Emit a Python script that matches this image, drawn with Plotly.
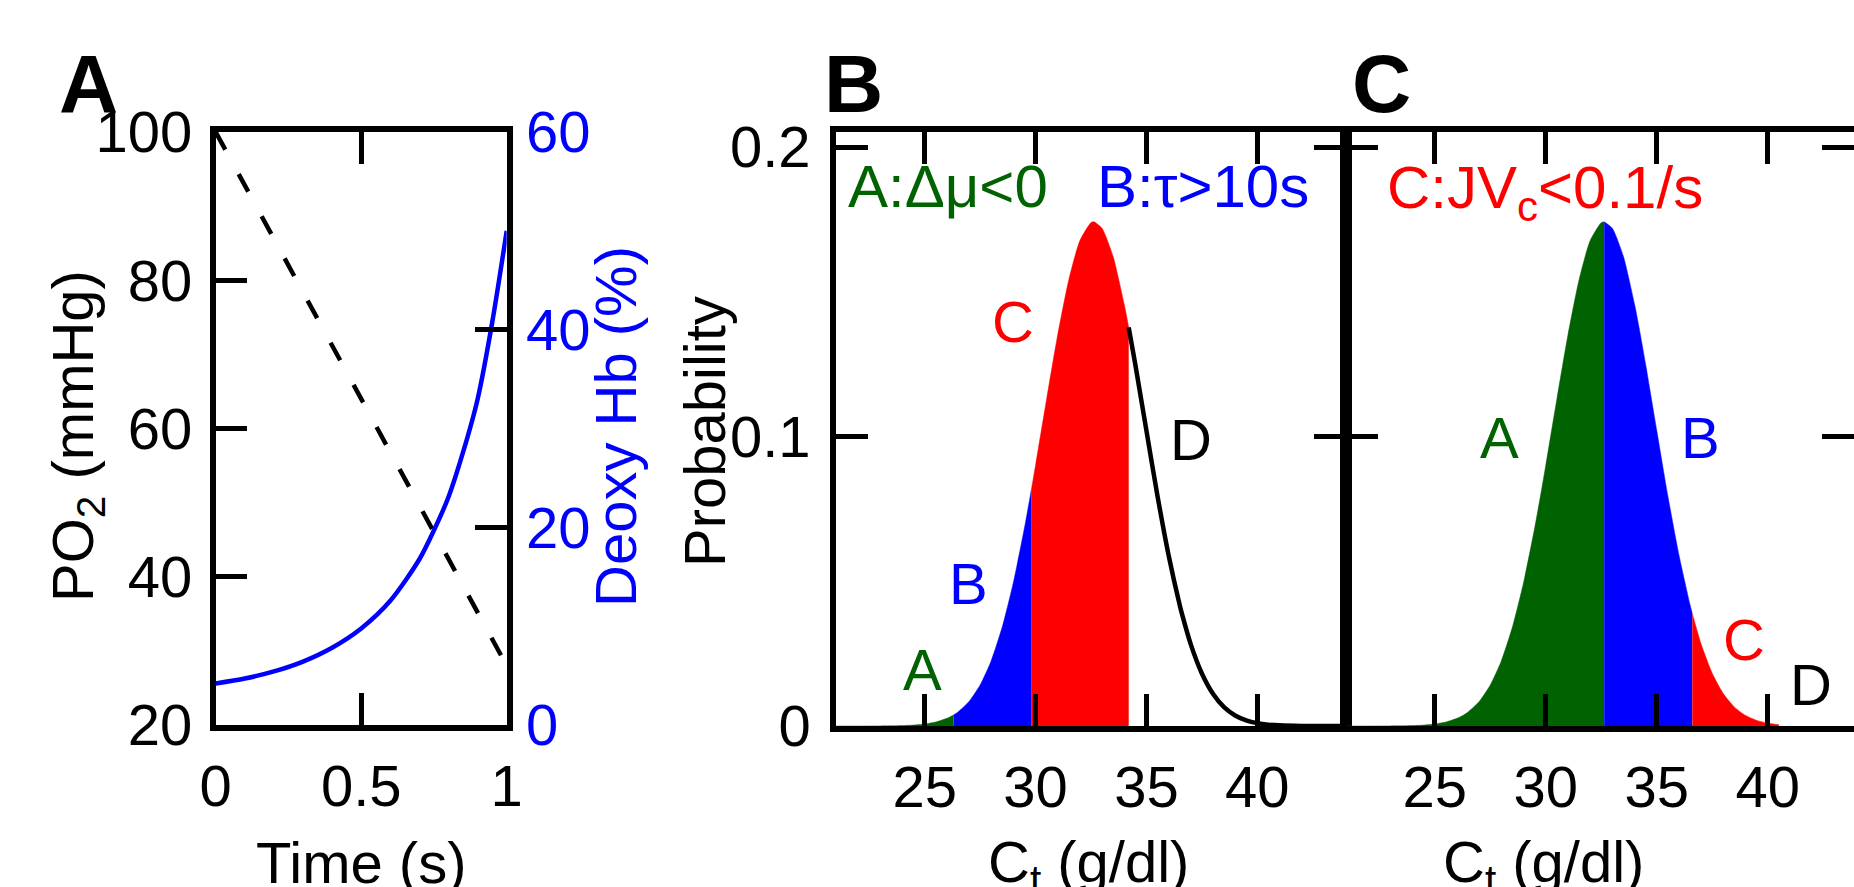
import plotly.graph_objects as go

W, H = 1854, 887

# ---------------- Panel A data ----------------
po2_time = [0, 0.25, 0.5, 0.75, 1.0]
po2_mmhg = [100, 82, 64, 46, 28]
deoxy_time = [0, 0.1, 0.2, 0.3, 0.4, 0.5, 0.6, 0.7, 0.75, 0.8, 0.85, 0.9, 0.95, 1.0]
deoxy_pct = [4.2, 4.7, 5.42, 6.42, 7.82, 9.77, 12.57, 16.77, 19.7, 23.07, 27.6, 32.97, 40.7, 50.0]

# ---------------- Panels B/C data ----------------
ct = [21, 22, 23, 23.5, 24, 24.5, 25, 25.5, 26, 26.3,
      26.5, 27, 27.5, 28, 28.5, 29, 29.5, 29.8, 30, 30.5,
      31, 31.5, 32, 32.5, 32.63, 33, 33.5, 34, 34.2, 34.5,
      35, 35.5, 36, 36.5, 36.6, 37, 37.5, 38, 38.5, 39,
      39.5, 40, 40.5, 41, 42, 43, 44]
prob = [0.0, 0.0, 0.00003, 0.00006, 0.00014, 0.00032, 0.00068, 0.00137, 0.00264, 0.00382,
        0.00484, 0.00847, 0.01417, 0.02256, 0.03427, 0.04961, 0.06846, 0.08117, 0.0901, 0.1130,
        0.1352, 0.1542, 0.1677, 0.1739, 0.1742, 0.1719, 0.1621, 0.1456, 0.1377, 0.1248,
        0.1020, 0.0794, 0.0590, 0.0418, 0.0388, 0.0282, 0.01815, 0.01114, 0.00652, 0.00364,
        0.00194, 0.00098, 0.00047, 0.00022, 0.00004, 0.00001, 0.0]
cuts_B = [26.3, 29.8, 34.2]
cuts_C = [32.63, 36.6, 40.5]

ct_ticks = [25, 30, 35, 40]
prob_ticks = [0, 0.1, 0.2]
prob_labels = ["0", "0.1", "0.2"]

GREEN = "rgb(0,98,0)"
BLUE = "#0000ff"
RED = "#ff0000"
FONT = "Liberation Sans, Arial, sans-serif"
FS = 58


def fx(x):
    return x / W


def fy(y):
    return 1 - y / H


def seg(lo, hi):
    xs = [c for c in ct if lo <= c <= hi]
    ys = [p for c, p in zip(ct, prob) if lo <= c <= hi]
    return xs, ys


fig = go.Figure()

# Panel A
fig.add_trace(go.Scatter(x=po2_time, y=po2_mmhg, mode="lines",
                         line=dict(color="black", width=4.5, dash="20px,28px"),
                         xaxis="x", yaxis="y", showlegend=False))
fig.add_trace(go.Scatter(x=deoxy_time, y=deoxy_pct, mode="lines",
                         line=dict(color=BLUE, width=4.5, shape="spline", smoothing=0.8),
                         xaxis="x", yaxis="y2", showlegend=False))

# Panel B
b_edges = [ct[0]] + cuts_B
for (lo, hi), col in zip(zip(b_edges[:-1], b_edges[1:]), [GREEN, BLUE, RED]):
    xs, ys = seg(lo, hi)
    fig.add_trace(go.Scatter(x=xs, y=ys, mode="lines", fill="tozeroy", fillcolor=col,
                             line=dict(color=col, width=0.5, shape="spline", smoothing=0.6),
                             xaxis="x2", yaxis="y3", showlegend=False))
xs, ys = seg(cuts_B[-1], ct[-1])
fig.add_trace(go.Scatter(x=xs, y=ys, mode="lines",
                         line=dict(color="black", width=4.5, shape="spline", smoothing=0.6),
                         xaxis="x2", yaxis="y3", showlegend=False))

# Panel C
c_edges = [ct[0]] + cuts_C
for (lo, hi), col in zip(zip(c_edges[:-1], c_edges[1:]), [GREEN, BLUE, RED]):
    xs, ys = seg(lo, hi)
    fig.add_trace(go.Scatter(x=xs, y=ys, mode="lines", fill="tozeroy", fillcolor=col,
                             line=dict(color=col, width=0.5, shape="spline", smoothing=0.6),
                             xaxis="x3", yaxis="y4", showlegend=False))

axcommon = dict(showline=True, linecolor="black", linewidth=5.5, ticks="inside",
                ticklen=32, tickwidth=4.5, tickcolor="black", showgrid=False, zeroline=False,
                automargin=False,
                tickfont=dict(family=FONT, size=FS, color="black"))

A_x = [215.7, 506.7]
A_y = [132, 725]
B_x = [836, 1346]
C_x = [1346, 1854]
BC_y = [132, 726]
ymaxBC = 0.2052
c_right = 21 + (C_x[1] - C_x[0]) / 22.2

fig.update_layout(
    template="none",
    width=W, height=H, autosize=False,
    margin=dict(l=0, r=0, t=0, b=0, pad=0),
    paper_bgcolor="white", plot_bgcolor="rgba(0,0,0,0)",
    showlegend=False,
    xaxis=dict(axcommon, domain=[fx(A_x[0]), fx(A_x[1])], range=[0, 1], anchor="y",
               tickvals=[0, 0.5, 1], ticktext=["0", "0.5", "1"], mirror="ticks",
               ticklabelstandoff=6),
    yaxis=dict(axcommon, domain=[fy(A_y[1]), fy(A_y[0])], range=[20, 100], anchor="x",
               tickvals=[20, 40, 60, 80, 100], mirror=False, ticklabelstandoff=6),
    yaxis2=dict(axcommon, overlaying="y", side="right", anchor="x", range=[0, 60],
                tickvals=[0, 20, 40, 60], mirror=False, ticklabelstandoff=2,
                tickfont=dict(family=FONT, size=FS, color=BLUE)),
    xaxis2=dict(axcommon, domain=[fx(B_x[0]), fx(B_x[1])], range=[21, 44], anchor="y3",
                tickvals=ct_ticks, mirror="ticks", ticklabelstandoff=6),
    yaxis3=dict(axcommon, domain=[fy(BC_y[1]), fy(BC_y[0])], range=[0, ymaxBC], anchor="x2",
                tickvals=prob_ticks, ticktext=prob_labels, mirror="ticks", ticklabelstandoff=8),
    xaxis3=dict(axcommon, domain=[fx(C_x[0]), 1.0], range=[21, c_right], anchor="y4",
                tickvals=ct_ticks, mirror="ticks", ticklabelstandoff=6),
    yaxis4=dict(axcommon, domain=[fy(BC_y[1]), fy(BC_y[0])], range=[0, ymaxBC], anchor="x3",
                tickvals=prob_ticks, showticklabels=False, mirror=False),
    # right-hand ticks of panel C (its frame line lies just beyond the picture edge)
    yaxis5=dict(axcommon, overlaying="y4", side="right", anchor="x3", range=[0, ymaxBC],
                tickvals=prob_ticks, showticklabels=False, showline=False, mirror=False),
)
# dummy trace so that yaxis5 is drawn
fig.add_trace(go.Scatter(x=[ct[0]], y=[prob[0]], mode="markers", marker=dict(opacity=0),
                         xaxis="x3", yaxis="y5", showlegend=False, hoverinfo="skip"))

ann = []


def add(text, x, y, size=FS, color="black", angle=0, bold=False, xanchor="center"):
    ann.append(dict(text=("<b>%s</b>" % text) if bold else text, x=fx(x), y=fy(y),
                    xref="paper", yref="paper", showarrow=False, textangle=angle,
                    xanchor=xanchor, yanchor="middle",
                    font=dict(family=FONT, size=size, color=color)))


# panel letters
add("A", 88, 83, size=82, bold=True)
add("B", 853, 83, size=82, bold=True)
add("C", 1381, 83, size=82, bold=True)

# axis titles
add("PO<sub>2</sub> (mmHg)", 77, 436, angle=-90)
add("Deoxy Hb (%)", 615, 427, color=BLUE, angle=-90)
add("Time (s)", 361, 862)
add("Probability", 704, 432, angle=-90)
add("C<sub>t</sub> (g/dl)", 1088, 866)
add("C<sub>t</sub> (g/dl)", 1543, 866)

# condition labels
add("A:Δμ&lt;0", 846, 187, size=60, color=GREEN, xanchor="left")
add("B:τ&gt;10s", 1095, 187, size=60, color=BLUE, xanchor="left")
add("C:JV<sub>c</sub>&lt;0.1/s", 1385, 192, size=60, color=RED, xanchor="left")

# region labels B
add("C", 1013, 322, color=RED)
add("D", 1191, 439)
add("B", 968, 583, color=BLUE)
add("A", 922, 669, color=GREEN)
# region labels C
add("A", 1499, 437, color=GREEN)
add("B", 1700, 437, color=BLUE)
add("C", 1744, 639, color=RED)
add("D", 1811, 684)

fig.update_layout(annotations=ann)
fig.write_html("out.html")
